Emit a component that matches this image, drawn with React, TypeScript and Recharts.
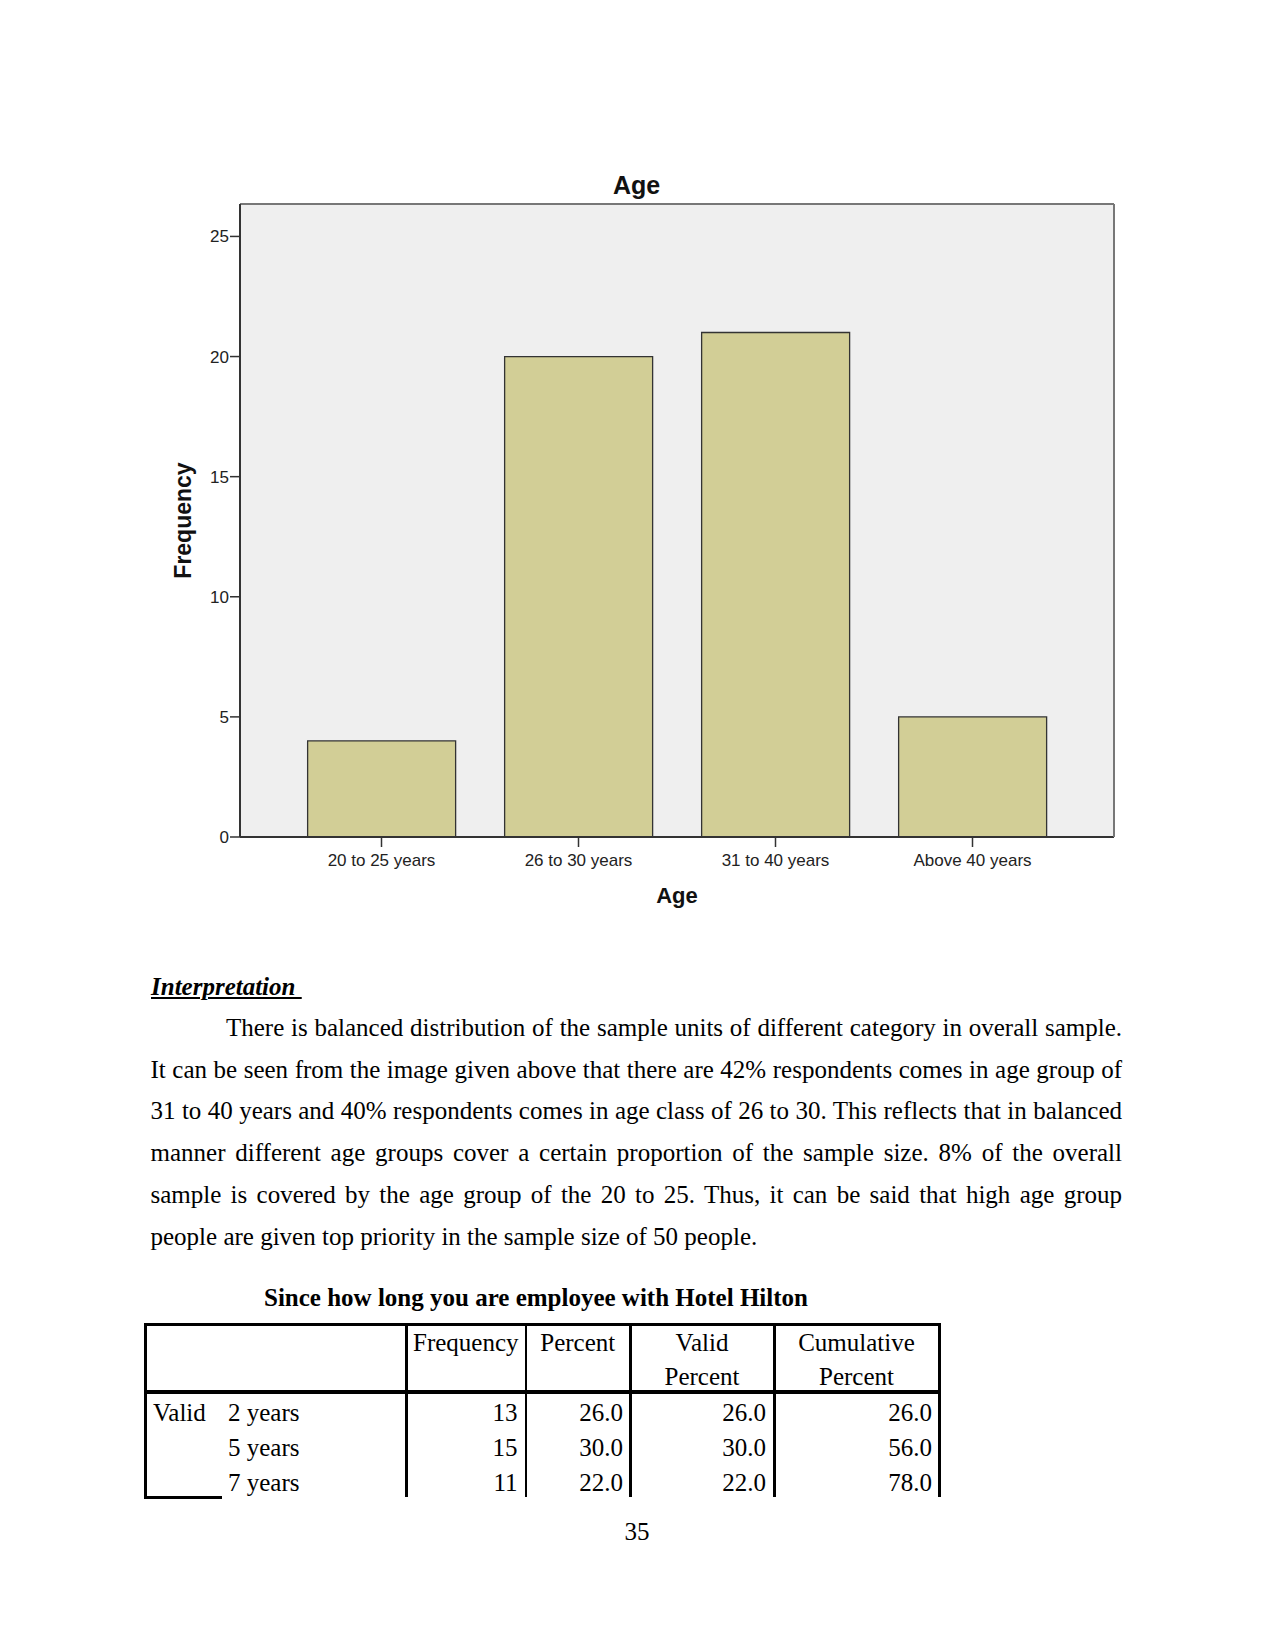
import { BarChart, Bar, XAxis, YAxis, CartesianGrid, Label } from 'recharts'

const ageGroups = ['20 to 25 years', '26 to 30 years', '31 to 40 years', 'Above 40 years']
const ageFrequency = [4, 20, 21, 5]
const frequencyTicks = [0, 5, 10, 15, 20, 25]

const paragraphLines = [
  'There is balanced distribution of the sample units of different category in overall sample.',
  'It can be seen from the image given above that there are 42% respondents comes in age group of',
  '31 to 40 years and 40% respondents comes in age class of 26 to 30. This reflects that in balanced',
  'manner different age groups cover a certain proportion of the sample size. 8% of the overall',
  'sample is covered by the age group of the 20 to 25. Thus, it can be said that high age group',
  'people are given top priority in the sample size of 50 people.',
]

const tenureLabels = ['2 years', '5 years', '7 years']
const tenureFrequency = [13, 15, 11]
const tenurePercent = [26.0, 30.0, 22.0]
const tenureValidPercent = [26.0, 30.0, 22.0]
const tenureCumulative = [26.0, 56.0, 78.0]

const chartData = ageGroups.map((age, i) => ({ age, frequency: ageFrequency[i] }))

const sans = '"Liberation Sans", Arial, sans-serif'
const serif = '"Liberation Serif", "Times New Roman", serif'

// column edges of the table (px)
const cols = [144, 405, 524.5, 629, 773, 938]

function Txt({ x, base, align = 'left', bold = false, children }: any) {
  const style: any = {
    position: 'absolute',
    top: base - 25.4,
    lineHeight: '34px',
    fontSize: 25,
    fontWeight: bold ? 'bold' : 'normal',
    whiteSpace: 'pre',
  }
  if (align === 'left') style.left = x
  if (align === 'right') { style.left = x - 300; style.width = 300; style.textAlign = 'right' }
  if (align === 'center') { style.left = x - 150; style.width = 300; style.textAlign = 'center' }
  return <div style={style}>{children}</div>
}

function Line({ x, y, w, h }: any) {
  return <div style={{ position: 'absolute', left: x, top: y, width: w, height: h, background: '#000' }} />
}

function AgeChart() {
  return (
    <div style={{ position: 'absolute', left: 0, top: 0 }}>
      <div
        style={{
          position: 'absolute', left: 0, top: 170, width: 1273, textAlign: 'center',
          fontFamily: sans, fontSize: 25, fontWeight: 'bold', lineHeight: '30px', color: '#111', zIndex: 1,
        }}
      >
        Age
      </div>
      <BarChart
        width={1275}
        height={950}
        data={chartData}
        margin={{ top: 203, right: 160, bottom: 38, left: 170 }}
        barCategoryGap="12.5%"
      >
        <CartesianGrid fill="#efefef" stroke="none" horizontal={false} vertical={false} />
        <Bar dataKey="frequency" fill="#d2ce96" stroke="#333" strokeWidth={1.3} isAnimationActive={false} />
        <XAxis
          dataKey="age"
          interval={0}
          padding={{ left: 43, right: 43 }}
          height={75}
          tickSize={10}
          tickMargin={7}
          tick={{ fontSize: 17, fill: '#222', fontFamily: sans }}
          axisLine={{ stroke: '#333', strokeWidth: 2 }}
          tickLine={{ stroke: '#333', strokeWidth: 1.5 }}
        >
          <Label
            value="Age"
            position="insideBottom"
            offset={9}
            style={{ fontSize: 22, fontWeight: 'bold', fill: '#111', fontFamily: sans }}
          />
        </XAxis>
        <XAxis
          xAxisId="top"
          orientation="top"
          dataKey="age"
          height={1}
          tick={false}
          tickLine={false}
          axisLine={{ stroke: '#777', strokeWidth: 2 }}
        />
        <YAxis
          domain={[0, 26.35]}
          ticks={frequencyTicks}
          width={70}
          tickSize={10}
          tickMargin={1}
          tick={{ fontSize: 17, fill: '#222', fontFamily: sans }}
          axisLine={{ stroke: '#333', strokeWidth: 2 }}
          tickLine={{ stroke: '#333', strokeWidth: 1.5 }}
        >
          <Label
            value="Frequency"
            angle={-90}
            position="insideLeft"
            offset={13}
            style={{ textAnchor: 'middle', fontSize: 23, fontWeight: 'bold', fill: '#111', fontFamily: sans }}
          />
        </YAxis>
        <YAxis
          yAxisId="right"
          orientation="right"
          width={1}
          tick={false}
          tickLine={false}
          axisLine={{ stroke: '#777', strokeWidth: 2 }}
        />
      </BarChart>
    </div>
  )
}

export default function App() {
  const rowBase = [1421, 1456, 1491.5]
  return (
    <div
      style={{
        position: 'absolute', left: 0, top: 0, width: 1275, height: 1651,
        background: '#fff', color: '#000', fontFamily: serif, overflow: 'hidden',
      }}
    >
      <AgeChart />

      {/* interpretation */}
      <div
        style={{
          position: 'absolute', left: 151, top: 995 - 29.3, fontSize: 25, lineHeight: '41.7px',
          fontWeight: 'bold', fontStyle: 'italic', textDecoration: 'underline', whiteSpace: 'pre',
        }}
      >
        {'Interpretation '}
      </div>
      {paragraphLines.map((line, i) => {
        const last = i === paragraphLines.length - 1
        return (
          <div
            key={i}
            style={{
              position: 'absolute',
              left: i === 0 ? 226 : 150.5,
              width: i === 0 ? 1122 - 226 : 1122 - 150.5,
              top: 1036 - 29.3 + i * 41.8,
              fontSize: 25,
              lineHeight: '41.7px',
              whiteSpace: 'nowrap',
              textAlign: last ? 'left' : 'justify',
              textAlignLast: last ? 'left' : 'justify',
            } as any}
          >
            {line}
          </div>
        )
      })}

      {/* table */}
      <Txt x={264} base={1306.5} bold>Since how long you are employee with Hotel Hilton</Txt>

      <Line x={cols[0]} y={1323} w={cols[5] - cols[0] + 2} h={2.5} />
      <Line x={cols[0]} y={1390} w={cols[5] - cols[0] + 2} h={3.5} />
      <Line x={cols[0]} y={1323} w={2.5} h={1498 - 1323} />
      {cols.slice(1).map((c, i) => (
        <Line key={i} x={c} y={1323} w={2.5} h={1497 - 1323} />
      ))}
      <Line x={cols[0]} y={1496} w={222 - cols[0]} h={2.5} />

      <Txt x={(cols[1] + cols[2]) / 2 + 1} base={1351.5} align="center">Frequency</Txt>
      <Txt x={(cols[2] + cols[3]) / 2 + 1} base={1351.5} align="center">Percent</Txt>
      <Txt x={(cols[3] + cols[4]) / 2 + 1} base={1351.5} align="center">Valid</Txt>
      <Txt x={(cols[3] + cols[4]) / 2 + 1} base={1385.5} align="center">Percent</Txt>
      <Txt x={(cols[4] + cols[5]) / 2 + 1} base={1351.5} align="center">Cumulative</Txt>
      <Txt x={(cols[4] + cols[5]) / 2 + 1} base={1385.5} align="center">Percent</Txt>

      <Txt x={153} base={rowBase[0]}>Valid</Txt>
      {tenureLabels.map((label, i) => (
        <div key={label}>
          <Txt x={228} base={rowBase[i]}>{label}</Txt>
          <Txt x={cols[2] - 7} base={rowBase[i]} align="right">{String(tenureFrequency[i])}</Txt>
          <Txt x={cols[3] - 6} base={rowBase[i]} align="right">{tenurePercent[i].toFixed(1)}</Txt>
          <Txt x={cols[4] - 7} base={rowBase[i]} align="right">{tenureValidPercent[i].toFixed(1)}</Txt>
          <Txt x={cols[5] - 6} base={rowBase[i]} align="right">{tenureCumulative[i].toFixed(1)}</Txt>
        </div>
      ))}

      <Txt x={637} base={1540} align="center">35</Txt>
    </div>
  )
}
